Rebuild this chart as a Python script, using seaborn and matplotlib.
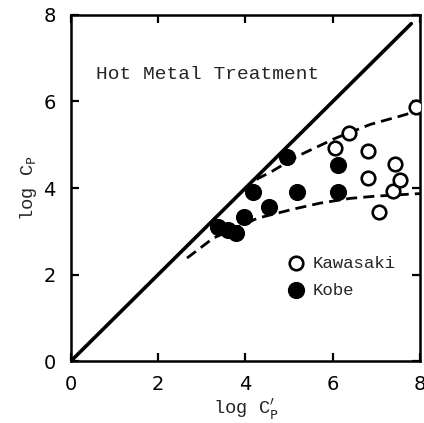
import matplotlib
matplotlib.use("Agg")
import matplotlib.pyplot as plt
import numpy as np
import pandas as pd
import seaborn as sns

# data
kawasaki_x = [6.06, 6.38, 6.80, 6.80, 7.06, 7.38, 7.43, 7.55, 7.91]
kawasaki_y = [4.92, 5.27, 4.85, 4.23, 3.44, 3.92, 4.55, 4.18, 5.87]
kobe_x = [3.37, 3.60, 3.78, 3.97, 4.17, 4.54, 4.95, 5.18, 6.12, 6.12]
kobe_y = [3.09, 3.03, 2.96, 3.33, 3.90, 3.56, 4.71, 3.90, 4.53, 3.90]
upper_x = [4.25, 4.60, 5.18, 6.06, 6.86, 7.61, 8.00]
upper_y = [4.20, 4.38, 4.73, 5.15, 5.47, 5.68, 5.80]
lower_x = [2.66, 3.26, 4.27, 5.09, 5.71, 6.40, 6.97, 7.80, 8.00]
lower_y = [2.38, 2.84, 3.30, 3.51, 3.65, 3.76, 3.81, 3.86, 3.87]
diag = [0.0, 7.8]
ticks = [0, 2, 4, 6, 8]

sns.set_style("ticks")
plt.rcParams["font.family"] = ["DejaVu Sans"]
plt.rcParams["mathtext.fontset"] = "dejavusans"

fig = plt.figure(figsize=(4.24, 4.23), dpi=100)
ax = fig.add_axes([71 / 424, 1 - 361 / 423, 349 / 424, 346 / 423])

kaw = pd.DataFrame({"x": kawasaki_x, "y": kawasaki_y})
kob = pd.DataFrame({"x": kobe_x, "y": kobe_y})

sns.lineplot(x=diag, y=diag, ax=ax, color="black", lw=2.6)
sns.lineplot(x=upper_x, y=upper_y, ax=ax, color="black", lw=2.0,
             sort=False, estimator=None)
sns.lineplot(x=lower_x, y=lower_y, ax=ax, color="black", lw=2.0,
             sort=False, estimator=None)
for l in ax.lines[1:]:
    l.set_dashes((4, 2.2))

sns.scatterplot(data=kaw, x="x", y="y", ax=ax, s=95, facecolor="white",
                edgecolor="black", linewidth=1.9, zorder=5)
sns.scatterplot(data=kob, x="x", y="y", ax=ax, s=130, color="black",
                edgecolor="black", zorder=5)

ax.set_xlim(0, 8)
ax.set_ylim(0, 8)
ax.set_xticks(ticks)
ax.set_yticks(ticks)
ax.tick_params(direction="in", length=6, width=1.6, top=True, right=True,
               labelsize=14, colors="black")
ax.tick_params(axis="x", pad=10)
ax.tick_params(axis="y", pad=11)
for s in ax.spines.values():
    s.set_linewidth(1.8)
    s.set_color("black")

mono = "Liberation Mono"
ax.set_xlabel(r"log C$^{\prime}_{\mathtt{P}}$", family=mono, fontsize=13.5, labelpad=2)
ax.set_ylabel(r"log C$_{\mathtt{P}}$", family=mono, fontsize=13.5, labelpad=3)
ax.text(0.58, 6.62, "Hot Metal Treatment", family=mono, fontsize=14,
        va="center")

ax.scatter([5.16], [2.26], s=95, facecolor="white", edgecolor="black",
           linewidth=1.9, zorder=5)
ax.scatter([5.16], [1.64], s=130, color="black", zorder=5)
ax.text(5.55, 2.26, "Kawasaki", family=mono, fontsize=12.5, va="center")
ax.text(5.55, 1.64, "Kobe", family=mono, fontsize=12.5, va="center")

fig.savefig("out.png", dpi=100)
